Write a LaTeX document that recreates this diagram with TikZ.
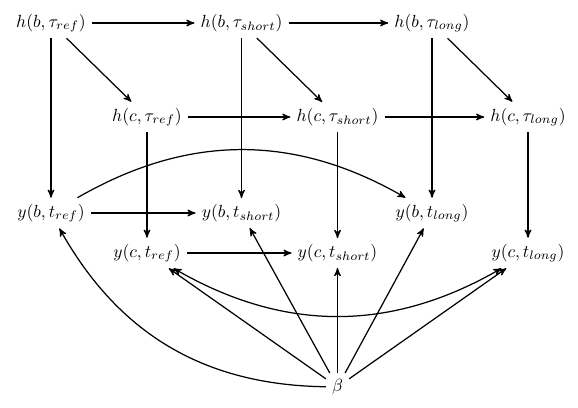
\documentclass[tikz,border=0pt]{standalone}
\usepackage{tikz}
\usetikzlibrary{arrows,positioning}
\usepackage{amsmath}
\begin{document}
\begin{tikzpicture}[node distance=3.81cm, auto]
      % Define styles
      \tikzstyle{var} = [inner sep=3.33pt]
      \tikzstyle{line} = [draw, -stealth', line width=0.7pt]
      \useasboundingbox (-1.02,0.46) rectangle (10.54,-7.68);

      % Place variables
      \node [var] (hbref) {$h(b,\tau_{ref})$};
      \node [var, right of=hbref] (hbshort) {$h(b,\tau_{short})$};
      \node [var, right of=hbshort] (hblong) {$h(b,\tau_{long})$};
      \node [var] (hcref) at (1.92,-1.88) {$h(c,\tau_{ref})$};
      \node [var, right of=hcref] (hcshort) {$h(c,\tau_{short})$};
      \node [var, right of=hcshort] (hclong) {$h(c,\tau_{long})$};
      \node [var, below of=hbref, node distance=3.8cm] (ybref) {$y(b,t_{ref})$};
      \node [var, below of=hbshort, node distance=3.8cm] (ybshort) {$y(b,t_{short})$};
      \node [var, below of=hblong, node distance=3.8cm] (yblong) {$y(b,t_{long})$};
      \node [var, below of=hcref, node distance=2.72cm] (ycref) {$y(c,t_{ref})$};
      \node [var, below of=hcshort, node distance=2.72cm] (ycshort) {$y(c,t_{short})$};
      \node [var, below of=hclong, node distance=2.72cm] (yclong) {$y(c,t_{long})$};
      \node [var, below of=ycshort, node distance=2.68cm] (beta) {$\beta$};

      % Draw lines
      \path [line] (hbref) -- (hbshort);
      \path [line] (hbshort) -- (hblong);
      \path [line] (hcref) -- (hcshort);
      \path [line] (hcshort) -- (hclong);
      \path [line] (hbref) -- (hcref);
      \path [line] (hbshort) -- (hcshort);
      \path [line] (hblong) -- (hclong);
      \path [line] (hbref) -- (ybref);
      \path [line] (hbshort) -- (ybshort);
      \path [line] (hblong) -- (yblong);
      \path [line] (hcref) -- (ycref);
      \path [line] (hcshort) -- (ycshort);
      \path [line] (hclong) -- (yclong);
      \path [line] (ybref) -- (ybshort);
      \path [line] (ycref) -- (ycshort);
      \path [line] (ybref) to [bend left] (yblong);
      \path [line, stealth'-stealth'] (ycref) to [bend right] (yclong);

      % Lines from beta
      \path [line] (beta) to [bend left] (ybref);
      \path [line] (beta) -- (ycref);
      \path [line] (beta) -- (ybshort);
      \path [line] (beta) -- (ycshort);
      \path [line] (beta) -- (yblong);
      \path [line] (beta) -- (yclong);
    \end{tikzpicture}
\end{document}
